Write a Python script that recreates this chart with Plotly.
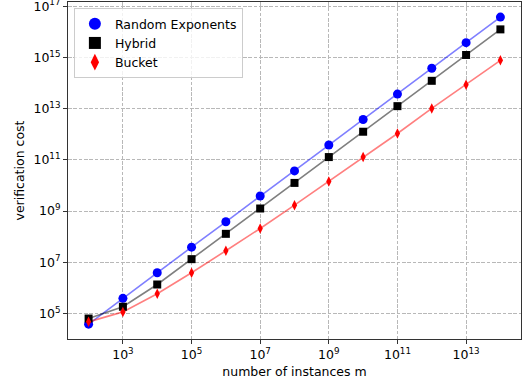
import plotly.graph_objects as go

m = [1e2, 1e3, 1e4, 1e5, 1e6, 1e7, 1e8, 1e9, 1e10, 1e11, 1e12, 1e13, 1e14]
random_exp = [10**4.58, 10**5.59, 10**6.59, 10**7.59, 10**8.58, 10**9.59, 10**10.57,
              10**11.58, 10**12.58, 10**13.57, 10**14.58, 10**15.58, 10**16.58]
hybrid = [10**4.80, 10**5.26, 10**6.13, 10**7.12, 10**8.11, 10**9.10, 10**10.10,
          10**11.11, 10**12.10, 10**13.10, 10**14.09, 10**15.10, 10**16.10]
bucket = [10**4.67, 10**5.06, 10**5.77, 10**6.59, 10**7.45, 10**8.32, 10**9.23,
          10**10.16, 10**11.11, 10**12.03, 10**13.01, 10**13.94, 10**14.89]

x_tickvals = [1e3, 1e5, 1e7, 1e9, 1e11, 1e13]
x_ticktext = ["10<sup>3</sup>", "10<sup>5</sup>", "10<sup>7</sup>", "10<sup>9</sup>",
              "10<sup>11</sup>", "10<sup>13</sup>"]
y_tickvals = [1e5, 1e7, 1e9, 1e11, 1e13, 1e15, 1e17]
y_ticktext = ["10<sup>5</sup>", "10<sup>7</sup>", "10<sup>9</sup>", "10<sup>11</sup>",
              "10<sup>13</sup>", "10<sup>15</sup>", "10<sup>17</sup>"]

series = [
    ("Random Exponents", random_exp, "rgba(0,0,255,0.5)", "blue", "circle", 9),
    ("Hybrid", hybrid, "rgba(0,0,0,0.5)", "black", "square", 8),
    ("Bucket", bucket, "rgba(255,0,0,0.5)", "red", "diamond-tall", 7.5),
]

fig = go.Figure()
for name, ys, lc, mc, sym, sz in series:
    fig.add_trace(go.Scatter(x=m, y=ys, mode="lines", line=dict(color=lc, width=1.6),
                             showlegend=False, hoverinfo="skip"))
for name, ys, lc, mc, sym, sz in series:
    fig.add_trace(go.Scatter(x=m, y=ys, mode="markers", name=name,
                             marker=dict(color=mc, symbol=sym, size=sz, line=dict(width=0))))

FONT = dict(family="DejaVu Sans", size=12.5, color="black")
axis_common = dict(
    type="log", showline=True, linecolor="#333333", linewidth=1, mirror=True,
    ticks="outside", ticklen=4, tickcolor="#333333", automargin=False,
    ticklabeloverflow="allow",
    showgrid=True, gridcolor="#b8b8b8", griddash="3.7px,1.6px", gridwidth=1,
    zeroline=False, tickfont=FONT,
)

fig.update_layout(
    width=523, height=387,
    margin=dict(l=68, r=2, t=2, b=48),
    paper_bgcolor="white", plot_bgcolor="white",
    font=FONT,
    xaxis=dict(axis_common, range=[1.4, 14.6], tickvals=x_tickvals, ticktext=x_ticktext,
               title=dict(text="number of instances m", standoff=6, font=FONT)),
    yaxis=dict(axis_common, range=[4.0, 17.17], tickvals=y_tickvals, ticktext=y_ticktext,
               title=dict(text="verification cost", standoff=6, font=FONT)),
    legend=dict(x=0.013, y=0.982, xanchor="left", yanchor="top",
                bgcolor="rgba(255,255,255,0.8)", bordercolor="#cccccc", borderwidth=1,
                font=FONT, tracegroupgap=0, itemsizing="constant"),
)

fig.write_html("out.html", config={"displayModeBar": False},
               post_script="document.body.style.margin='0';document.body.style.overflow='hidden';")
